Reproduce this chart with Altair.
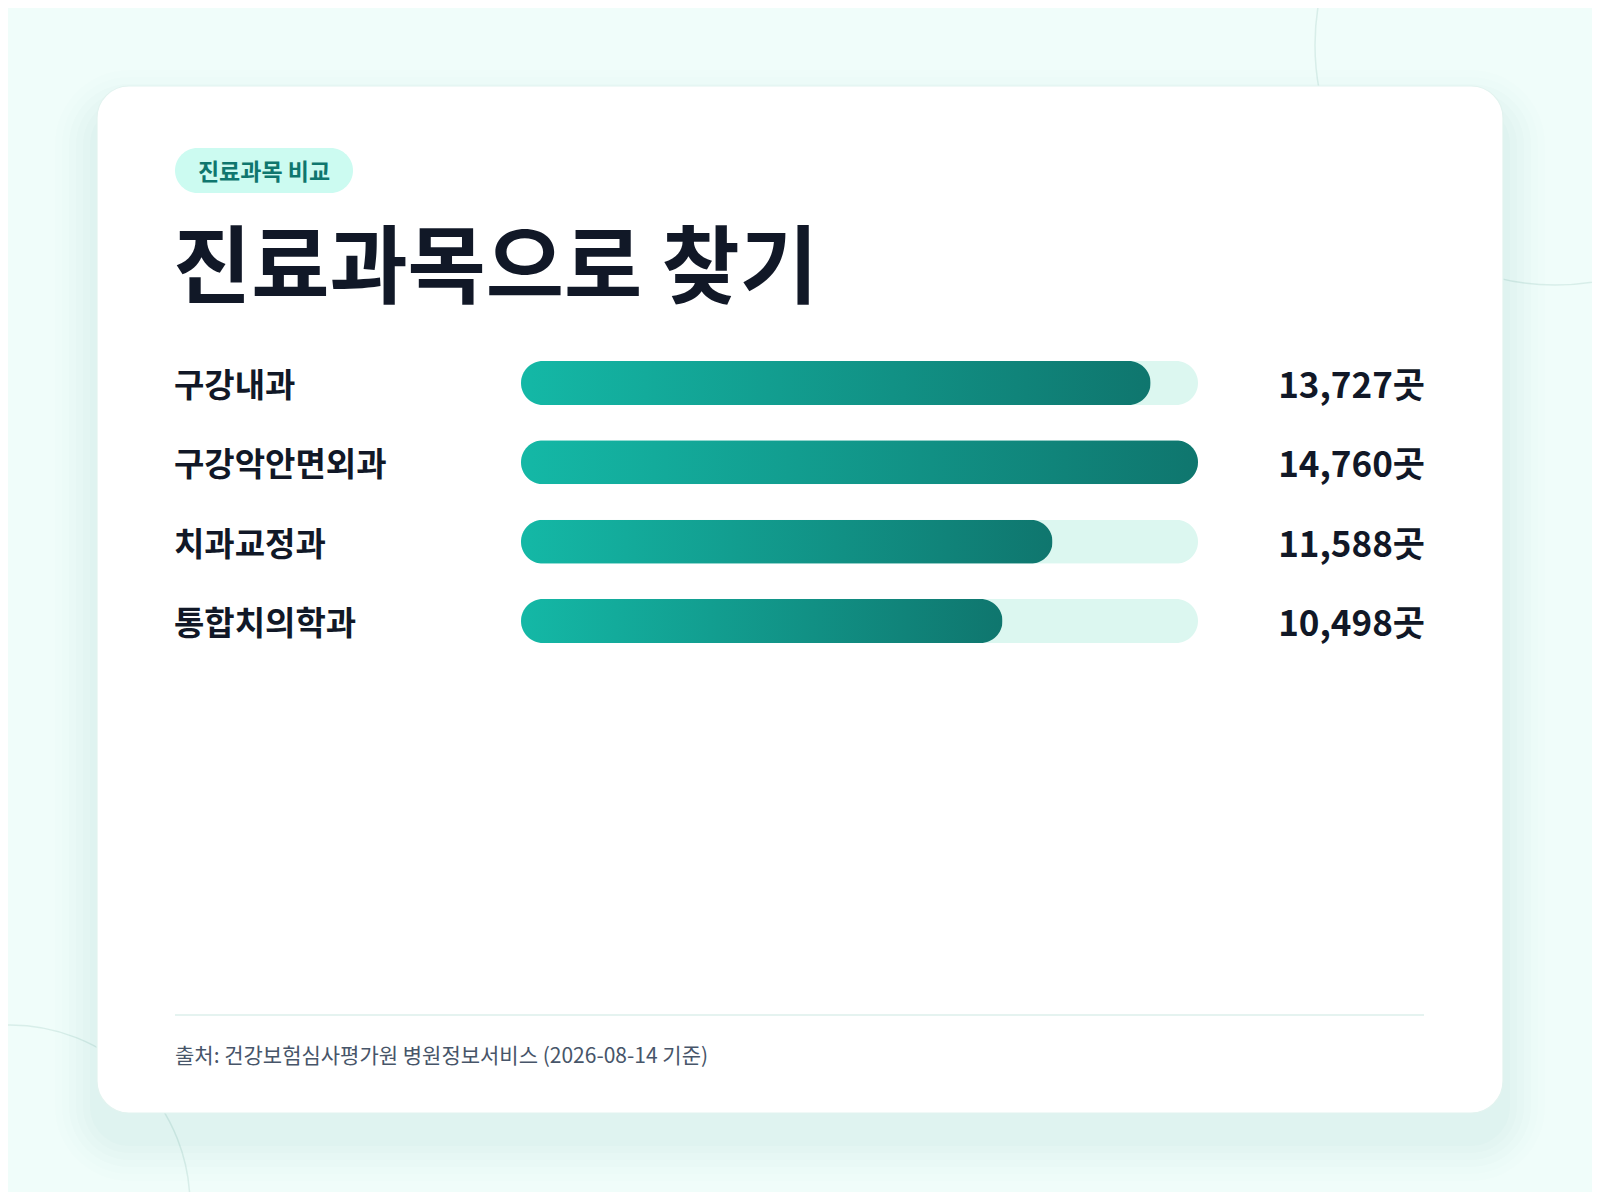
import altair as alt
import pandas as pd

# ---- data ----
categories = ["구강내과", "구강악안면외과", "치과교정과", "통합치의학과"]
counts = [13727, 14760, 11588, 10498]
unit = "곳"
badge_text = "진료과목 비교"
title_text = "진료과목으로 찾기"
source_text = "출처: 건강보험심사평가원 병원정보서비스 (2026-08-14 기준)"

FONT = "Noto Sans CJK KR"
W, H = 1584, 1184
MAXV = max(counts)

df = pd.DataFrame({"cat": categories, "value": counts, "track": [MAXV] * len(counts)})
one = alt.Data(values=[{"k": 1}])

xs = alt.Scale(domain=[0, MAXV], range=[513, 1190], zero=True, nice=False)
ys = alt.Scale(type="point", domain=categories, range=[375, 613], padding=0)
X = lambda f: alt.X(f, scale=xs, axis=None)
Y = alt.Y("cat:N", scale=ys, axis=None, sort=categories)

# ---- decoration ----
bg = alt.Chart(one).mark_rect(color="#f0fdfa").encode(
    x=alt.value(0), x2=alt.value(W), y=alt.value(0), y2=alt.value(H))

circle1 = alt.Chart(one).mark_point(shape="circle", filled=False, stroke="#d3ebe6",
                                    strokeWidth=1.5, size=480 * 480, opacity=0.8).encode(
    x=alt.value(1547), y=alt.value(37))
circle2 = alt.Chart(one).mark_point(shape="circle", filled=False, stroke="#d3ebe6",
                                    strokeWidth=1.5, size=360 * 360, opacity=0.8).encode(
    x=alt.value(2), y=alt.value(1197))

card_l, card_r, card_t, card_b = 89, 1495, 78, 1105
shadows = []
for i, op in enumerate([0.007, 0.008, 0.01, 0.012, 0.013, 0.015]):
    g = 42 - i * 7
    shadows.append(alt.Chart(one).mark_rect(color="#0f766e", opacity=op, cornerRadius=32 + g).encode(
        x=alt.value(card_l - g), x2=alt.value(card_r + g),
        y=alt.value(card_t - g + 26), y2=alt.value(card_b + g + 26)))

card = alt.Chart(one).mark_rect(color="#ffffff", stroke="#e2f3ef", strokeWidth=1.2,
                                cornerRadius=32).encode(
    x=alt.value(card_l), x2=alt.value(card_r), y=alt.value(card_t), y2=alt.value(card_b))

badge = alt.Chart(one).mark_rect(color="#ccfbf1", cornerRadius=23).encode(
    x=alt.value(167), x2=alt.value(345), y=alt.value(140), y2=alt.value(185))
badge_t = alt.Chart(one).mark_text(font=FONT, fontSize=23, fontWeight="bold", color="#0f766e",
                                   align="center", baseline="middle").encode(
    x=alt.value(256), y=alt.value(165), text=alt.value(badge_text))

title = alt.Chart(one).mark_text(font=FONT, fontSize=85, fontWeight="bold", color="#111827",
                                 align="left", baseline="middle").encode(
    x=alt.value(165), y=alt.value(263), text=alt.value(title_text))

rule = alt.Chart(one).mark_rule(color="#dcefeb", strokeWidth=1.5).encode(
    x=alt.value(167), x2=alt.value(1416), y=alt.value(1007))
source = alt.Chart(one).mark_text(font=FONT, fontSize=21, color="#475569",
                                  align="left", baseline="middle").encode(
    x=alt.value(167), y=alt.value(1049), text=alt.value(source_text))

# ---- bars ----
base = alt.Chart(df)
track = base.mark_bar(color="#dcf7f0", height=44, cornerRadius=22).encode(
    x=X("track:Q"), y=Y)
grad = alt.Gradient(gradient="linear", x1=0, x2=1, y1=0, y2=0,
                    stops=[alt.GradientStop(color="#14b8a6", offset=0),
                           alt.GradientStop(color="#0f766e", offset=1)])
bars = base.mark_bar(color=grad, height=44, cornerRadius=22).encode(
    x=X("value:Q"), y=Y)

labels = base.mark_text(font=FONT, fontSize=33, fontWeight=600, color="#111827",
                        align="left", baseline="middle", dy=4).encode(
    x=alt.value(166), y=Y, text="cat:N")
values = base.transform_calculate(
    lab="format(datum.value, ',') + '" + unit + "'"
).mark_text(font=FONT, fontSize=35, fontWeight="bold", color="#111827",
            align="right", baseline="middle", dy=4).encode(
    x=alt.value(1417), y=Y, text="lab:N")

chart = alt.layer(
    bg, circle1, circle2, *shadows, card, badge, badge_t, title,
    track, bars, labels, values, rule, source
).properties(
    width=W, height=H, padding=0, autosize=alt.AutoSizeParams(type="none"),
    background="#f0fdfa"
).configure_view(stroke=None)

chart.save("out.html", embed_options={"renderer": "svg", "actions": False})
